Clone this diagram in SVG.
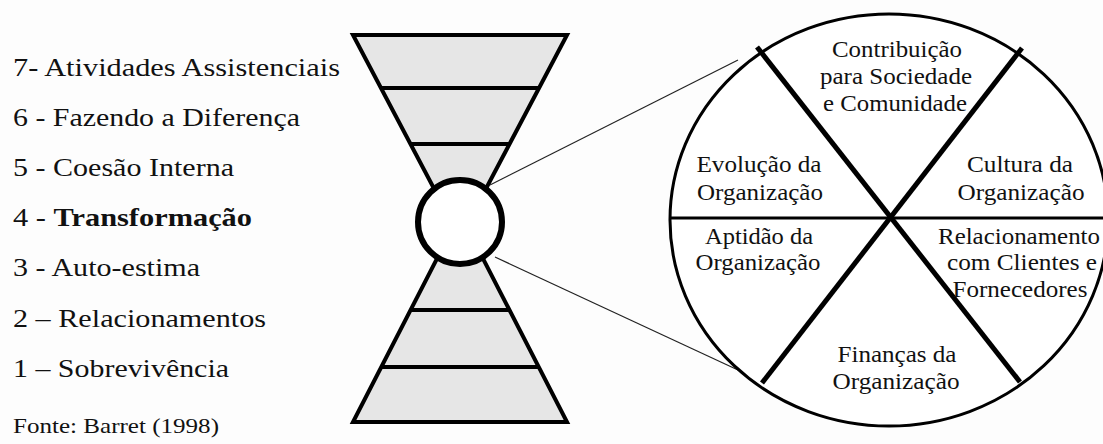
<svg xmlns="http://www.w3.org/2000/svg" width="1103" height="444" viewBox="0 0 1103 444">
<style>
.lst{font-size:25px}
.src{font-size:22px}
.lbl{font-size:23px;text-anchor:middle}
.band{fill:#e6e6e6;stroke:#000;stroke-width:4;stroke-linejoin:miter}
.hl{stroke:#000;stroke-width:4}
.thin{stroke:#222;stroke-width:1.2;fill:none}
</style>
<rect width="1103" height="444" fill="#fdfdfd"/>
<g id="legend" font-family="Liberation Serif, serif" fill="#111">
<text class="lst" x="13" y="76" textLength="327" lengthAdjust="spacingAndGlyphs">7- Atividades Assistenciais</text>
<text class="lst" x="13" y="126" textLength="287" lengthAdjust="spacingAndGlyphs">6 - Fazendo a Diferença</text>
<text class="lst" x="13" y="176" textLength="221" lengthAdjust="spacingAndGlyphs">5 - Coesão Interna</text>
<text class="lst" x="13" y="226" textLength="239" lengthAdjust="spacingAndGlyphs">4 - <tspan font-weight="bold">Transformação</tspan></text>
<text class="lst" x="13" y="276" textLength="187" lengthAdjust="spacingAndGlyphs">3 - Auto-estima</text>
<text class="lst" x="13" y="327" textLength="253" lengthAdjust="spacingAndGlyphs">2 – Relacionamentos</text>
<text class="lst" x="13" y="377" textLength="216" lengthAdjust="spacingAndGlyphs">1 – Sobrevivência</text>
<text class="src" x="13" y="433" textLength="206" lengthAdjust="spacingAndGlyphs">Fonte: Barret (1998)</text>
</g>
<g id="hourglass">
<polygon class="band" points="353,35 567,35 480,200 440,200"/>
<polygon class="band" points="353,422 567,422 476,245 444,245"/>
<line class="hl" x1="381" y1="88" x2="539" y2="88"/>
<line class="hl" x1="411" y1="144" x2="509" y2="144" stroke-width="3"/>
<line class="hl" x1="411" y1="310" x2="509" y2="310" stroke-width="3"/>
<line class="hl" x1="381" y1="367" x2="539" y2="367"/>
<circle cx="460" cy="222" r="42" fill="#fff" stroke="#000" stroke-width="6"/>
</g>
<g id="connectors">
<line class="thin" x1="490" y1="185" x2="738" y2="60"/>
<line class="thin" x1="495" y1="257" x2="738" y2="370"/>
</g>
<g id="wheel">
<ellipse cx="889" cy="220" rx="219" ry="206" fill="#fff" stroke="#000" stroke-width="3"/>
<line x1="670" y1="218" x2="1103" y2="218" stroke="#000" stroke-width="3"/>
<line x1="757" y1="47" x2="1020" y2="382" stroke="#000" stroke-width="5"/>
<line x1="1022" y1="48" x2="762" y2="383" stroke="#000" stroke-width="5"/>
</g>
<g id="sector-contribuicao" font-family="Liberation Serif, serif" fill="#111">
<text class="lbl" x="897" y="57" textLength="130" lengthAdjust="spacingAndGlyphs">Contribuição</text>
<text class="lbl" x="896" y="84" textLength="152" lengthAdjust="spacingAndGlyphs">para Sociedade</text>
<text class="lbl" x="895" y="111" textLength="144" lengthAdjust="spacingAndGlyphs">e Comunidade</text>
</g>
<g id="sector-evolucao" font-family="Liberation Serif, serif" fill="#111">
<text class="lbl" x="759" y="172" textLength="125" lengthAdjust="spacingAndGlyphs">Evolução da</text>
<text class="lbl" x="760" y="200" textLength="126" lengthAdjust="spacingAndGlyphs">Organização</text>
</g>
<g id="sector-cultura" font-family="Liberation Serif, serif" fill="#111">
<text class="lbl" x="1020" y="172" textLength="106" lengthAdjust="spacingAndGlyphs">Cultura da</text>
<text class="lbl" x="1021" y="200" textLength="127" lengthAdjust="spacingAndGlyphs">Organização</text>
</g>
<g id="sector-aptidao" font-family="Liberation Serif, serif" fill="#111">
<text class="lbl" x="759" y="244" textLength="108" lengthAdjust="spacingAndGlyphs">Aptidão da</text>
<text class="lbl" x="758" y="270" textLength="125" lengthAdjust="spacingAndGlyphs">Organização</text>
</g>
<g id="sector-relacionamento" font-family="Liberation Serif, serif" fill="#111">
<text class="lbl" x="1019" y="244" textLength="162" lengthAdjust="spacingAndGlyphs">Relacionamento</text>
<text class="lbl" x="1022" y="270" textLength="150" lengthAdjust="spacingAndGlyphs">com Clientes e</text>
<text class="lbl" x="1020" y="297" textLength="135" lengthAdjust="spacingAndGlyphs">Fornecedores</text>
</g>
<g id="sector-financas" font-family="Liberation Serif, serif" fill="#111">
<text class="lbl" x="897" y="362" textLength="119" lengthAdjust="spacingAndGlyphs">Finanças da</text>
<text class="lbl" x="896" y="389" textLength="127" lengthAdjust="spacingAndGlyphs">Organização</text>
</g>
</svg>
